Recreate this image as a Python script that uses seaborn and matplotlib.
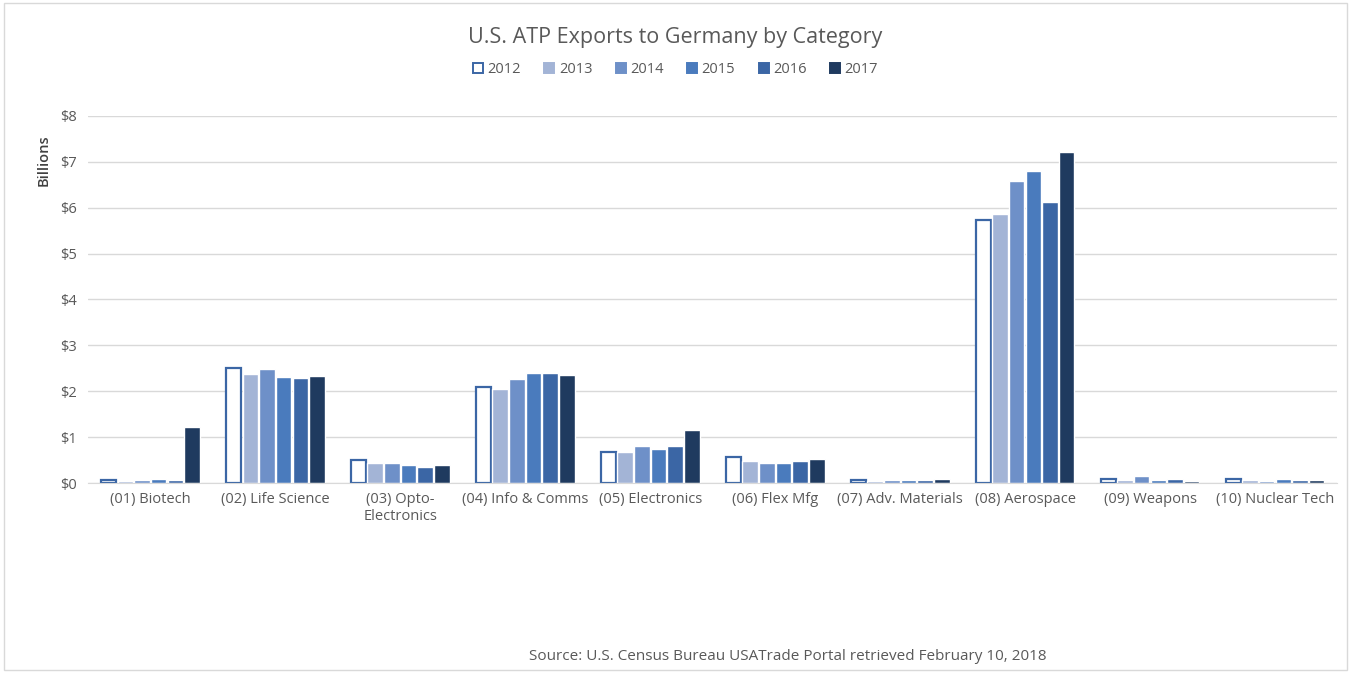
import pandas as pd
import seaborn as sns
import matplotlib.pyplot as plt
from matplotlib.patches import Patch, Rectangle

# values, billions of dollars
categories = ["(01) Biotech", "(02) Life Science", "(03) Opto-\nElectronics", "(04) Info & Comms",
              "(05) Electronics", "(06) Flex Mfg", "(07) Adv. Materials", "(08) Aerospace",
              "(09) Weapons", "(10) Nuclear Tech"]
years = ["2012", "2013", "2014", "2015", "2016", "2017"]
v2012 = [0.07, 2.51, 0.50, 2.09, 0.67, 0.58, 0.07, 5.72, 0.10, 0.10]
v2013 = [0.05, 2.38, 0.43, 2.05, 0.69, 0.48, 0.05, 5.86, 0.07, 0.07]
v2014 = [0.07, 2.48, 0.45, 2.26, 0.80, 0.43, 0.06, 6.59, 0.16, 0.05]
v2015 = [0.10, 2.32, 0.40, 2.40, 0.75, 0.44, 0.06, 6.80, 0.07, 0.09]
v2016 = [0.08, 2.30, 0.36, 2.40, 0.81, 0.48, 0.06, 6.12, 0.09, 0.08]
v2017 = [1.22, 2.34, 0.40, 2.35, 1.16, 0.52, 0.10, 7.22, 0.04, 0.07]

colors = ["#ffffff", "#a3b4d6", "#6e90c8", "#4a7bbd", "#3b66a5", "#1f3a5f"]
edge_2012 = "#3b66a5"
text_col = "#595959"

rows = []
for y, vals in zip(years, [v2012, v2013, v2014, v2015, v2016, v2017]):
    for c, v in zip(categories, vals):
        rows.append({"category": c, "year": y, "value": v})
df = pd.DataFrame(rows)

sns.set_style("white")
plt.rcParams["font.family"] = ["Open Sans", "DejaVu Sans"]

fig = plt.figure(figsize=(13.51, 6.73), dpi=100)
ax = fig.add_axes([0.065, 0.282, 0.925, 0.546])

sns.barplot(data=df, x="category", y="value", hue="year", palette=colors,
            width=0.8, gap=0.07, ax=ax, legend=False, saturation=1)

# first hue level = 2012 -> outlined bars
for p in ax.patches[:len(categories)]:
    p.set_edgecolor(edge_2012)
    p.set_linewidth(1.6)

ax.set_ylim(0, 8)
ax.set_xlim(-0.5, 9.5)
ax.set_yticks(range(9))
ax.set_yticklabels([r"\$%d" % i for i in range(9)], color=text_col, fontsize=10.5)
ax.tick_params(axis="x", colors=text_col, labelsize=10.5, length=0, pad=6)
ax.tick_params(axis="y", length=0, pad=8)
ax.grid(axis="y", color="#d9d9d9", linewidth=1)
ax.set_axisbelow(True)
for s in ["top", "right", "left"]:
    ax.spines[s].set_visible(False)
ax.spines["bottom"].set_color("#d9d9d9")
ax.set_xlabel("")
ax.set_ylabel("Billions", color="#404040", fontsize=10.5, fontweight="semibold")
ax.yaxis.set_label_coords(-0.03, 0.88)

handles = [Patch(facecolor=c, edgecolor=(edge_2012 if i == 0 else c), linewidth=1.4)
           for i, c in enumerate(colors)]
fig.legend(handles, years, loc="center", bbox_to_anchor=(0.5, 0.896), ncol=6, frameon=False,
           handlelength=0.7, handleheight=0.7, handletextpad=0.3, columnspacing=1.6,
           labelcolor=text_col, fontsize=10.5)

fig.text(0.5, 0.944, "U.S. ATP Exports to Germany by Category", ha="center", va="center",
         fontsize=15.5, color=text_col)
fig.text(0.583, 0.025, "Source: U.S. Census Bureau USATrade Portal retrieved February 10, 2018",
         ha="center", va="center", fontsize=11, color=text_col)

fig.patches.append(Rectangle((0.003, 0.004), 0.994, 0.992, transform=fig.transFigure,
                             fill=False, edgecolor="#d9d9d9", linewidth=1))

fig.savefig("out.png", dpi=100)
